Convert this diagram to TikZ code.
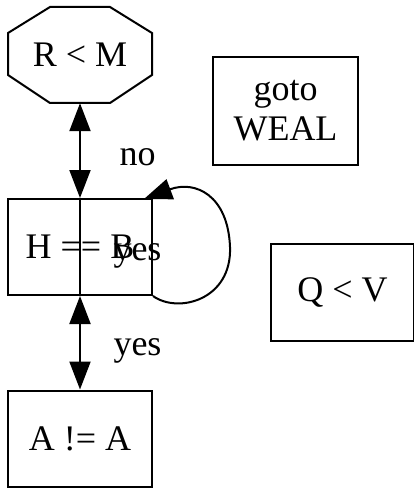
\documentclass[tikz,border=0pt]{standalone}
\usepackage{fontspec}
\setmainfont{Liberation Serif}
\usetikzlibrary{arrows.meta}
\begin{document}
\begin{tikzpicture}[x=1pt,y=-1pt,
  every node/.style={font=\fontsize{36}{40}\selectfont},
  box/.style={draw,line width=2pt,minimum width=144pt,minimum height=96pt,inner sep=0pt,align=center},
  hidden/.style={minimum width=144pt,minimum height=96pt,inner sep=0pt},
  lbl/.style={anchor=base,inner sep=0pt},
  line/.style={line width=2pt},
  conn/.style={line,{Triangle[length=28pt,width=21pt]}-{Triangle[length=28pt,width=21pt]}},
  loopc/.style={line,-{Triangle[length=28pt,width=21pt]}}]
\useasboundingbox (0,0) rectangle (414,489);
% nodes
\node[hidden] (R) at (80,55) {R < M};
\draw[line,shift={(R.center)}] (-30,-48) -- (30,-48) -- (72,-22) -- (72,20) -- (30,48) -- (-30,48) -- (-72,20) -- (-72,-22) -- cycle;
\node[box] (H) at (80,247) {H == B};
\node[box] (A) at (80,438.5) {A != A};
\node[box,minimum width=145pt,minimum height=108pt] (G) at (285.5,111) {goto\\WEAL};
\node[box,minimum width=143pt,minimum height=97pt] (Q) at (342.5,292.5) {Q < V};
% connectors
\draw[conn] (R.south) -- (H.north);
\draw[line] (H.north) -- (H.south);
\draw[conn] (H.south) -- (A.north);
\coordinate (loopend) at (144,199);
\draw[loopc] (H.south east) .. controls (178,314) and (232,300) .. (230,247)
  .. controls (228,195) and (195,180) .. (loopend);
% labels
\node[lbl] (lno) at (137.5,165) {no};
\node[lbl] (lyes1) at (137.5,260) {yes};
\node[lbl] (lyes2) at (137.5,355) {yes};
\end{tikzpicture}
\end{document}
